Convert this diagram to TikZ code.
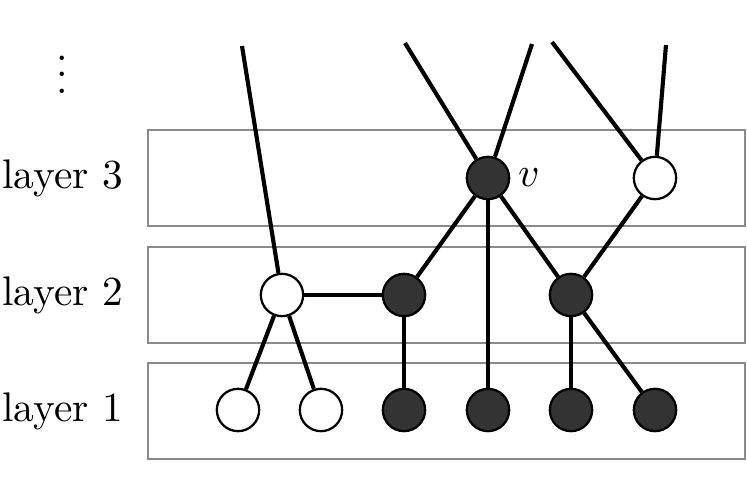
\documentclass[tikz,border=0pt]{standalone}
\usepackage{amsmath,amssymb}
\usepackage{tikz}
\usetikzlibrary{positioning}
\usepackage{xcolor}
\definecolor{dark}{HTML}{333333}
\definecolor{boxgray}{HTML}{8A8A8A}

\begin{document}
\begin{tikzpicture}[x=0.0085cm,y=-0.0085cm,
    layerbox/.style={draw=boxgray,line width=0.5pt,minimum width=597*0.0085cm,minimum height=96*0.0085cm,inner sep=0pt},
    vtx/.style={circle,draw,line width=0.55pt,minimum size=0.36cm,inner sep=0pt},
    dvtx/.style={vtx,fill=dark},
    wvtx/.style={vtx,fill=white},
    edge/.style={line width=1pt}]
  \useasboundingbox (0,0) rectangle (747,501);
  % LAYER BOXES and their labels
  \node[layerbox] (box3) at (446.5,178) {};
  \node[layerbox] (box2) at (446.5,295) {};
  \node[layerbox] (box1) at (446.5,411) {};
  \node[anchor=east,inner sep=0pt] (lab3) at (124,178) {layer 3};
  \node[anchor=east,inner sep=0pt] (lab2) at (124,295) {layer 2};
  \node[anchor=east,inner sep=0pt] (lab1) at (124,411) {layer 1};
  \node[inner sep=0pt] (dots) at (62,62) {$\vdots$};
  % LAYER 3
  \node[dvtx] (v) at (488,178) {};
  \node[right=0.6mm of v,inner sep=0pt] (vlab) {$v$};
  \node[wvtx] (w3) at (655,178) {};
  % LAYER 2
  \node[wvtx] (a2) at (282,295) {};
  \node[dvtx] (b2) at (404,295) {};
  \node[dvtx] (c2) at (571,295) {};
  % LAYER 1
  \node[wvtx] (a1) at (238,410) {};
  \node[wvtx] (b1) at (321,410) {};
  \node[dvtx] (c1) at (404,410) {};
  \node[dvtx] (d1) at (488,410) {};
  \node[dvtx] (e1) at (571,410) {};
  \node[dvtx] (f1) at (655,410) {};
  % loose ends going up out of the picture
  \coordinate (ua) at (242,46);
  \coordinate (uv1) at (405,43);
  \coordinate (uv2) at (532,44);
  \coordinate (uw1) at (552,42);
  \coordinate (uw2) at (666,45);
  % EDGES
  \draw[edge] (a2) -- (ua);
  \draw[edge] (a2) -- (a1);
  \draw[edge] (a2) -- (b1);
  \draw[edge] (a2) -- (b2);
  \draw[edge] (b2) -- (c1);
  \draw[edge] (b2) -- (v);
  \draw[edge] (v) -- (d1);
  \draw[edge] (v) -- (c2);
  \draw[edge] (v) -- (uv1);
  \draw[edge] (v) -- (uv2);
  \draw[edge] (c2) -- (e1);
  \draw[edge] (c2) -- (f1);
  \draw[edge] (c2) -- (w3);
  \draw[edge] (w3) -- (uw1);
  \draw[edge] (w3) -- (uw2);
\end{tikzpicture}
\end{document}
